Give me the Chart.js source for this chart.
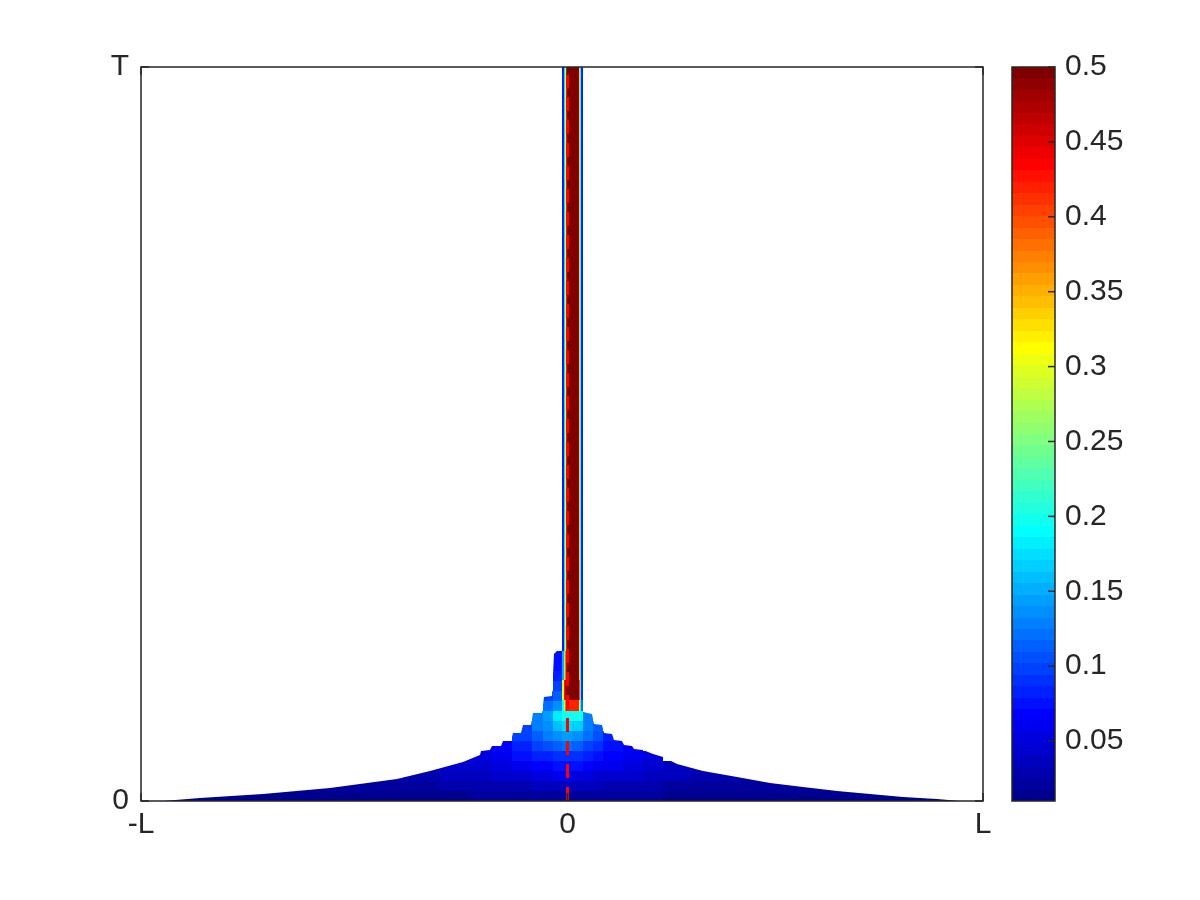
<!DOCTYPE html>
<html>
<head>
<meta charset="utf-8">
<script src="https://cdn.jsdelivr.net/npm/chart.js@4.4.1/dist/chart.umd.min.js"></script>
<style>
  html, body { margin: 0; padding: 0; background: #fff; }
  #wrap { width: 1200px; height: 900px; }
</style>
</head>
<body>
<div id="wrap"><canvas id="chart" width="1200" height="900"></canvas></div>
<script>
// axes (x in units of L, t in units of T)
const xTickVals = [-1, 0.013, 1];
const xTickLabels = ['-L', '0', 'L'];
const yTickVals = [0, 1];
const yTickLabels = ['0', 'T'];
const cbTicks = [0.05, 0.1, 0.15, 0.2, 0.25, 0.3, 0.35, 0.4, 0.45, 0.5];
const cbMin = 0.01, cbMax = 0.5, cbLevels = 64;

// outline of the coloured region (left side bottom->top, then right side top->bottom)
const envX = [-0.9477, -0.8599, -0.7102, -0.5511, -0.3919, -0.3135, -0.2352, -0.1948, -0.1924, -0.1710,
  -0.1663, -0.1449, -0.1401, -0.1211, -0.1164, -0.0974, -0.0926, -0.0736, -0.0689, -0.0475,
  -0.0428, -0.0238, -0.0190, -0.0119,
  0.0499, 0.0499, 0.0713, 0.0760, 0.0950, 0.0998, 0.1188, 0.1235, 0.1425, 0.1473,
  0.1663, 0.1710, 0.1924, 0.2162, 0.2399, 0.2732, 0.3349, 0.4157, 0.4941, 0.5724,
  0.6532, 0.7316, 0.8100, 0.8907, 0.9454];
const envT = [0, 0.0041, 0.0095, 0.0177, 0.0300, 0.0409, 0.0531, 0.0627, 0.0681, 0.0695,
  0.0749, 0.0749, 0.0817, 0.0817, 0.0926, 0.0926, 0.1035, 0.1035, 0.1199, 0.1199,
  0.1417, 0.1431, 0.2003, 0.2044,
  0.2044, 0.1213, 0.1185, 0.1049, 0.1035, 0.0926, 0.0913, 0.0831, 0.0817, 0.0763,
  0.0749, 0.0708, 0.0695, 0.0640, 0.0599, 0.0504, 0.0409, 0.0327, 0.0245, 0.0191,
  0.0136, 0.0095, 0.0054, 0.0027, 0];

// lower "tent": column edges, row edges, values bottom-up per column
const tentEdges = [-1, -0.7173, -0.5273, -0.3848, -0.2898, -0.2185, -0.1686, -0.1188, -0.0713, -0.0451,
  -0.0214, 0, 0.0238, 0.0499, 0.0736, 0.0974, 0.1449, 0.1924, 0.2399, 0.3040, 0.3990, 0.5653, 1];
const rowT = [0, 0.0136, 0.0272, 0.0409, 0.0545, 0.0681, 0.0817, 0.0954, 0.1090, 0.1226,
  0.1362, 0.1499, 0.1635, 0.1771, 0.1907, 0.2044];
const tentVals = [
  [0.014, 0.018],
  [0.014, 0.02],
  [0.015, 0.022, 0.025],
  [0.016, 0.024, 0.03, 0.035],
  [0.017, 0.026, 0.034, 0.042, 0.046],
  [0.018, 0.028, 0.04, 0.048, 0.054, 0.058],
  [0.018, 0.03, 0.044, 0.055, 0.063, 0.07],
  [0.019, 0.032, 0.048, 0.06, 0.072, 0.085, 0.095, 0.1],
  [0.02, 0.034, 0.052, 0.066, 0.08, 0.098, 0.112, 0.125, 0.13],
  [0.02, 0.035, 0.054, 0.07, 0.086, 0.106, 0.125, 0.14, 0.145, 0.12, 0.1],
  [0.02, 0.036, 0.056, 0.072, 0.09, 0.112, 0.135, 0.16, 0.18, 0.14, 0.11, 0.095, 0.085, 0.078, 0.072],
  [0.02, 0.036, 0.056, 0.074, 0.094, 0.118, 0.145, 0.175, 0.2],
  [0.02, 0.035, 0.055, 0.072, 0.09, 0.115, 0.14, 0.168, 0.195],
  [0.02, 0.034, 0.05, 0.066, 0.082, 0.1, 0.118, 0.132, 0.13],
  [0.02, 0.033, 0.048, 0.062, 0.075, 0.09, 0.102, 0.11],
  [0.019, 0.031, 0.044, 0.056, 0.067, 0.077, 0.083],
  [0.018, 0.029, 0.041, 0.051, 0.059, 0.064],
  [0.018, 0.027, 0.037, 0.046, 0.051],
  [0.017, 0.025, 0.033, 0.04],
  [0.016, 0.023, 0.029, 0.034],
  [0.015, 0.021, 0.026],
  [0.014, 0.018]
];

// narrow channel near x = 0, running up to T
const stripEdges = [0, 0.0036, 0.0071, 0.0095, 0.0119, 0.0404, 0.0428, 0.0458, 0.0499];
const stripRowT = [0.1226, 0.1376, 0.1649, 0.2044, 1];
const stripVals = [
  [0.2, 0.28, 0.38, 0.44, 0.42, 0.3, 0.2, 0.12],
  [0.3, 0.43, 0.47, 0.49, 0.5, 0.4, 0.22, 0.09],
  [0.15, 0.26, 0.38, 0.46, 0.5, 0.33, 0.2, 0.08],
  [0.08, 0.18, 0.3, 0.43, 0.5, 0.33, 0.2, 0.08]
];

// red dashed line at x = 0
const dashX = [0.013, 0.013];
const dashT = [0, 1];

const INK = '#262626';
const FONT = { family: '"Liberation Sans", Arial, sans-serif', size: 30 };

// MATLAB jet, 64 levels
function jet(v) {
  let i = Math.floor((v - cbMin) / (cbMax - cbMin) * cbLevels);
  i = Math.max(0, Math.min(cbLevels - 1, i));
  const c = a => Math.round(255 * Math.max(0, Math.min(1, a)));
  const r = Math.min((i - 23) / 16, (71 - i) / 16);
  const g = Math.min((i - 7) / 16, (55 - i) / 16);
  const b = Math.min((i + 9) / 16, (39 - i) / 16);
  return `rgb(${c(r)},${c(g)},${c(b)})`;
}

function cell(ctx, x, y, x0, x1, t0, t1, v) {
  const l = Math.round(x.getPixelForValue(x0)), r = Math.round(x.getPixelForValue(x1));
  const top = Math.round(y.getPixelForValue(t1)), bot = Math.round(y.getPixelForValue(t0));
  ctx.fillStyle = jet(v);
  ctx.fillRect(l, top, r - l, bot - top);
}

function seg(ctx, x0, y0, x1, y1) {
  ctx.beginPath(); ctx.moveTo(x0, y0); ctx.lineTo(x1, y1); ctx.stroke();
}

const heatPlugin = {
  id: 'heat',
  beforeDatasetsDraw(chart) {
    const { ctx, chartArea: a, scales: { x, y } } = chart;
    ctx.save();
    ctx.beginPath();
    ctx.rect(a.left, a.top, a.width, a.height);
    ctx.clip();
    ctx.save();
    ctx.beginPath();
    envX.forEach((ex, k) => {
      const px = x.getPixelForValue(ex), py = y.getPixelForValue(envT[k]);
      if (k) ctx.lineTo(px, py); else ctx.moveTo(px, py);
    });
    ctx.closePath();
    ctx.clip();
    tentVals.forEach((col, c) => col.forEach((v, r) =>
      cell(ctx, x, y, tentEdges[c], tentEdges[c + 1], rowT[r], rowT[r + 1], v)));
    ctx.restore();
    stripVals.forEach((row, r) => row.forEach((v, k) =>
      cell(ctx, x, y, stripEdges[k], stripEdges[k + 1], stripRowT[r], stripRowT[r + 1], v)));
    ctx.restore();
  },
  afterDatasetsDraw(chart) {
    const { ctx, chartArea: a, scales: { x, y, cb } } = chart;
    ctx.save();
    ctx.strokeStyle = INK;
    ctx.lineWidth = 1.5;
    ctx.strokeRect(a.left, a.top, a.width, a.height);
    xTickVals.forEach(v => {
      const px = x.getPixelForValue(v);
      seg(ctx, px, a.bottom, px, a.bottom - 8);
      seg(ctx, px, a.top, px, a.top + 8);
    });
    yTickVals.forEach(v => {
      const py = y.getPixelForValue(v);
      seg(ctx, a.left, py, a.left + 8, py);
      seg(ctx, a.right, py, a.right - 8, py);
    });

    // colorbar
    const x0 = Math.round(a.right + 29), x1 = Math.round(a.right + 72);
    const step = (cbMax - cbMin) / cbLevels;
    const edges = [];
    for (let k = 0; k <= cbLevels; k++) edges.push(Math.round(cb.getPixelForValue(cbMin + k * step)));
    for (let k = 0; k < cbLevels; k++) {
      ctx.fillStyle = jet(cbMin + (k + 0.5) * step);
      ctx.fillRect(x0, edges[k + 1], x1 - x0, edges[k] - edges[k + 1]);
    }
    ctx.strokeRect(x0, cb.top, x1 - x0, cb.bottom - cb.top);
    cbTicks.forEach(v => {
      const py = cb.getPixelForValue(v);
      seg(ctx, x1, py, x1 - 7, py);
    });
    ctx.restore();
  }
};

new Chart(document.getElementById('chart').getContext('2d'), {
  type: 'scatter',
  data: {
    datasets: [{
      data: dashX.map((v, i) => ({ x: v, y: dashT[i] })),
      showLine: true,
      borderColor: '#ff0000',
      borderWidth: 3,
      borderDash: [14, 9],
      pointRadius: 0,
      fill: false
    }]
  },
  options: {
    responsive: false,
    animation: false,
    events: [],
    layout: { padding: { top: 67, left: 0, right: 0, bottom: 0 } },
    plugins: { legend: { display: false }, tooltip: { enabled: false } },
    scales: {
      x: {
        type: 'linear', min: -1, max: 1,
        afterBuildTicks: s => { s.ticks = xTickVals.map(v => ({ value: v })); },
        afterFit: s => { s.height = 99; s.paddingLeft = 0; s.paddingRight = 0; },
        grid: { display: false, drawTicks: false },
        border: { display: false },
        ticks: { autoSkip: false, maxRotation: 0, padding: 6, color: INK, font: FONT,
          callback: (v, i) => xTickLabels[i] }
      },
      y: {
        type: 'linear', min: 0, max: 1,
        afterBuildTicks: s => { s.ticks = yTickVals.map(v => ({ value: v })); },
        afterFit: s => { s.width = 141; s.paddingTop = 0; s.paddingBottom = 0; },
        grid: { display: false, drawTicks: false },
        border: { display: false },
        ticks: { autoSkip: false, padding: 12, color: INK, font: FONT,
          callback: (v, i) => yTickLabels[i] }
      },
      cb: {
        type: 'linear', axis: 'y', position: 'right', min: cbMin, max: cbMax,
        afterBuildTicks: s => { s.ticks = cbTicks.map(v => ({ value: v })); },
        afterFit: s => { s.width = 217; s.paddingTop = 0; s.paddingBottom = 0; },
        grid: { display: false, drawTicks: false },
        border: { display: false },
        ticks: { autoSkip: false, padding: 82, color: INK, font: FONT,
          callback: v => String(v) }
      }
    }
  },
  plugins: [heatPlugin]
});
</script>
</body>
</html>
